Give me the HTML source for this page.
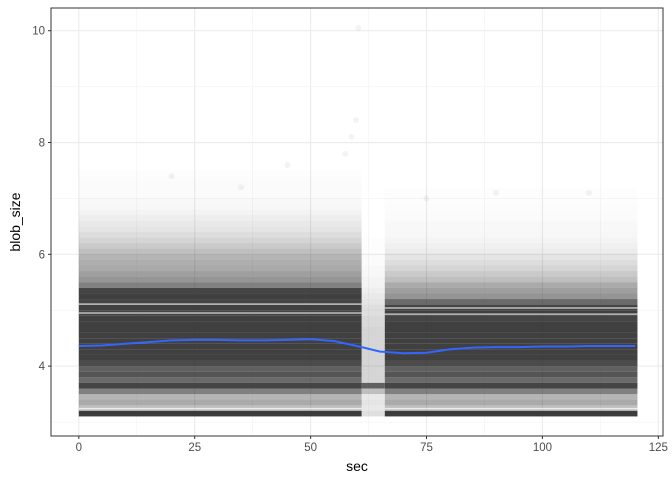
<!DOCTYPE html>
<html><head><meta charset="utf-8"><style>
body{margin:0;background:#fff;}
svg text{font-family:"Liberation Sans",sans-serif;}
</style></head><body>
<svg id="chart" width="672" height="480" xmlns="http://www.w3.org/2000/svg">
<rect width="672" height="480" fill="#fff"/>
<g id="grid"></g>
<g id="marks"></g>
<g id="line"></g>
<rect x="51" y="8" width="612" height="428" fill="none" stroke="#333" stroke-width="1"/>
<g id="axes"></g>
<text x="357" y="471" font-size="14" text-anchor="middle" fill="#000">sec</text>
<text transform="translate(20,222) rotate(-90)" font-size="14" text-anchor="middle" fill="#000">blob_size</text>
</svg>
<script>
const xTicks=[0,25,50,75,100,125];
const yTicks=[4,6,8,10];
const levels=[3.1,3.2,3.3,3.4,3.5,3.6,3.7,3.8,3.9,4.0,4.1,4.2,4.3,4.4,4.5,4.6,4.7,4.8,4.9,5.0,5.1,5.2,5.3,5.4,5.5,5.6,5.7,5.8,5.9,6.0,6.1,6.2,6.3,6.4,6.5,6.6,6.7,6.8,6.9,7.0,7.1,7.2,7.3,7.4];
const alphaLeft=[0.92,0.3,0.4,0.35,0.6,0.88,0.7,0.8,0.75,0.85,0.9,0.9,0.9,0.9,0.9,0.9,0.9,0.9,0.88,0.9,0.88,0.9,0.88,0.6,0.5,0.45,0.4,0.38,0.35,0.3,0.25,0.2,0.16,0.12,0.1,0.08,0.06,0.04,0.03,0.02,0.02,0.02,0.015,0.01];
const alphaRight=[0.92,0.3,0.4,0.35,0.6,0.88,0.7,0.8,0.75,0.85,0.9,0.9,0.9,0.9,0.9,0.9,0.9,0.88,0.9,0.88,0.7,0.5,0.45,0.4,0.3,0.25,0.2,0.16,0.12,0.09,0.07,0.05,0.04,0.03,0.03,0.02,0.02,0.015,0.01,0.01,0.01,0.0,0.0,0.0];
const alphaGap=[0.15,0.1,0.12,0.1,0.3,0.75,0.2,0.2,0.2,0.2,0.2,0.2,0.2,0.2,0.2,0.2,0.18,0.18,0.15,0.15,0.12,0.1,0.08,0.06,0.05,0.04,0.03,0.02,0.02,0.01,0.01,0.01,0,0,0,0,0,0,0,0,0,0,0,0];
const segStart=[0,61,66];
const segEnd=[61,66,120.5];
const gapLeft=[5.11,4.95,3.24];
const gapRight=[5.04,4.93,3.24];
const lineSec=[0,5,10,15,20,25,30,35,40,45,50,55,60,65,70,75,80,85,90,95,100,105,110,115,120];
const lineVal=[4.36,4.37,4.40,4.43,4.46,4.47,4.47,4.46,4.46,4.47,4.48,4.45,4.36,4.26,4.23,4.24,4.30,4.33,4.34,4.34,4.35,4.35,4.36,4.36,4.36];
const outSec=[60.3,59.8,57.5,58.8,20,35,90,110,45,75];
const outVal=[10.05,8.4,7.8,8.1,7.4,7.2,7.1,7.1,7.6,7.0];
const sx=s=>51+(s+6)*4.636;
const sy=v=>436-(v-3.1+0.35)*55.9;
const NS="http://www.w3.org/2000/svg";
function mk(tag,attrs,parent){const e=document.createElementNS(NS,tag);for(const k in attrs)e.setAttribute(k,attrs[k]);parent.appendChild(e);return e;}
const grid=document.getElementById('grid');
for(let i=0;i<xTicks.length;i++){
  const l=mk('line',{x1:sx(xTicks[i]),x2:sx(xTicks[i]),y1:8,y2:436,stroke:'#ebebeb','stroke-width':1.1},grid);
  
  
  if(i<xTicks.length-1){const m=mk('line',{x1:sx(xTicks[i]+12.5),x2:sx(xTicks[i]+12.5),y1:8,y2:436,stroke:'#f2f2f2','stroke-width':0.6},grid);
  
  }
}
for(let i=0;i<yTicks.length;i++){
  const l=mk('line',{x1:51,x2:663,y1:sy(yTicks[i]),y2:sy(yTicks[i]),stroke:'#ebebeb','stroke-width':1.1},grid);
  
  
  const m=mk('line',{x1:51,x2:663,y1:sy(yTicks[i]-1),y2:sy(yTicks[i]-1),stroke:'#f2f2f2','stroke-width':0.6},grid);
  
  
}
const marks=document.getElementById('marks');
const alphas=[alphaLeft,alphaGap,alphaRight];
for(let s=0;s<3;s++){
  for(let i=0;i<levels.length;i++){
    const a=alphas[s][i];if(a<=0)continue;
    const r=mk('rect',{x:sx(segStart[s]),width:sx(segEnd[s])-sx(segStart[s]),y:sy(levels[i]+0.1),height:sy(levels[i])-sy(levels[i]+0.1),fill:'rgb(43,43,43)','fill-opacity':a},marks);
    
    
  }
}
gapLeft.forEach(v=>{
  const r=mk('rect',{x:sx(0),width:sx(61)-sx(0),y:sy(v)-0.7,height:1.4,fill:'#fff','fill-opacity':0.7},marks);
  
  
});
gapRight.forEach(v=>{
  const r=mk('rect',{x:sx(66),width:sx(120.5)-sx(66),y:sy(v)-0.7,height:1.4,fill:'#fff','fill-opacity':0.7},marks);
  
  
});
for(let i=0;i<outSec.length;i++){
  const c=mk('circle',{cx:sx(outSec[i]),cy:sy(outVal[i]),r:3,fill:'rgb(43,43,43)','fill-opacity':0.06},marks);
  
  
}
const lg=document.getElementById('line');
const p=mk('polyline',{points:lineSec.map((s,i)=>sx(s)+','+sy(lineVal[i])).join(' '),fill:'none',stroke:'#3366ff','stroke-width':2},lg);


const ax=document.getElementById('axes');
xTicks.forEach(t=>{
  const l=mk('line',{x1:sx(t),x2:sx(t),y1:436,y2:439,stroke:'#333'},ax);
  
  
  const tx=mk('text',{x:sx(t),y:451,'font-size':11.5,'text-anchor':'middle',fill:'#4d4d4d'},ax);tx.textContent=t;
  
  
});
yTicks.forEach(t=>{
  const l=mk('line',{x1:48,x2:51,y1:sy(t),y2:sy(t),stroke:'#333'},ax);
  
  
  const tx=mk('text',{x:45,y:sy(t)+4,'font-size':11.5,'text-anchor':'end',fill:'#4d4d4d'},ax);tx.textContent=t;
  
  
});
</script>
</body></html>
